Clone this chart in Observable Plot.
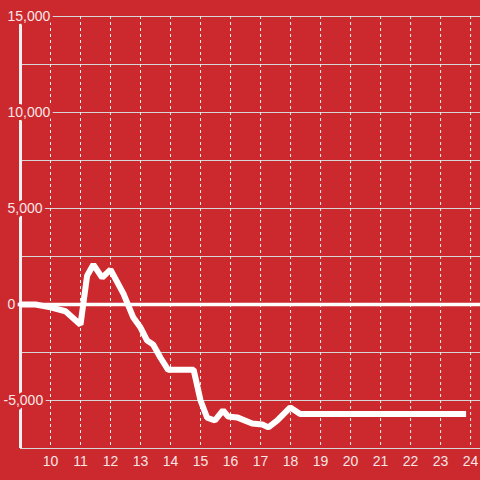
<!DOCTYPE html>
<html>
<head>
<meta charset="utf-8">
<script src="https://cdn.jsdelivr.net/npm/d3@7"></script>
<script src="https://cdn.jsdelivr.net/npm/@observablehq/plot@0.6"></script>
<style>
  html, body { margin: 0; padding: 0; background: #cc292e; }
  #chart { width: 480px; height: 480px; }
</style>
</head>
<body>
<div id="chart"></div>
<script>
// Hours of the day (decimal) and value at that time
const hours = [9, 9.5, 10, 10.5, 11, 11.22, 11.43, 11.72, 12, 12.43, 12.76, 13, 13.22, 13.42, 13.66, 13.92, 14.77, 15, 15.22, 15.48, 15.75, 15.92, 16.22, 16.72, 17.06, 17.26, 17.56, 17.99, 18.32, 23.85];
const values = [0, 0, -150, -350, -1050, 1500, 2080, 1400, 1820, 570, -680, -1200, -1880, -2080, -2760, -3400, -3400, -5000, -5900, -6040, -5520, -5830, -5880, -6200, -6250, -6400, -6040, -5360, -5700, -5700];

const xTicks = [10, 11, 12, 13, 14, 15, 16, 17, 18, 19, 20, 21, 22, 23, 24];
const yLabelTicks = [15000, 10000, 5000, 0, -5000];
const yGridTicks = [15000, 12500, 10000, 7500, 5000, 2500, -2500, -5000, -7500];
const xDomain = [9, 24.33];
const yDomain = [-7500, 15000];

const data = hours.map((h, i) => ({hour: h, value: values[i]}));
const fmt = d3.format(",");
const bg = "#cc292e";
const labelFill = "#f7e6e6";

const chart = Plot.plot({
  width: 480,
  height: 480,
  marginLeft: 20,
  marginRight: 0,
  marginTop: 16,
  marginBottom: 32,
  style: {background: bg, fontFamily: "'Liberation Sans', Arial, sans-serif", fontSize: "14px"},
  x: {domain: xDomain, axis: null},
  y: {domain: yDomain, axis: null},
  marks: [
    Plot.ruleY(yGridTicks, {stroke: "#d6d6d6", strokeWidth: 1}),
    Plot.ruleX(xTicks, {stroke: "#f0f0f0", strokeWidth: 1, strokeDasharray: "3,3"}),
    Plot.ruleX([xDomain[0]], {stroke: "#f0f0f0", strokeWidth: 3}),
    Plot.ruleY([0], {x1: 8.9, x2: xDomain[1], stroke: "white", strokeWidth: 3.5}),
    Plot.text(yLabelTicks.filter(d => d >= 0), {
      y: d => d, frameAnchor: "left", dx: -13, textAnchor: "start",
      text: d => fmt(d), fill: labelFill, stroke: bg, strokeWidth: 6,
      strokeLinejoin: "round", fontSize: 14
    }),
    Plot.text(yLabelTicks.filter(d => d < 0), {
      y: d => d, frameAnchor: "left", dx: -17, textAnchor: "start",
      text: d => "-" + fmt(-d), fill: labelFill, stroke: bg, strokeWidth: 6,
      strokeLinejoin: "round", fontSize: 14
    }),
    Plot.text(xTicks, {
      x: d => d, frameAnchor: "bottom", dy: 13, lineAnchor: "middle",
      text: d => String(d), fill: labelFill, fontSize: 14
    }),
    Plot.line(data, {
      x: "hour", y: "value", stroke: "white", strokeWidth: 6,
      strokeLinejoin: "miter", strokeLinecap: "butt"
    })
  ]
});
document.getElementById("chart").appendChild(chart);
</script>
</body>
</html>
